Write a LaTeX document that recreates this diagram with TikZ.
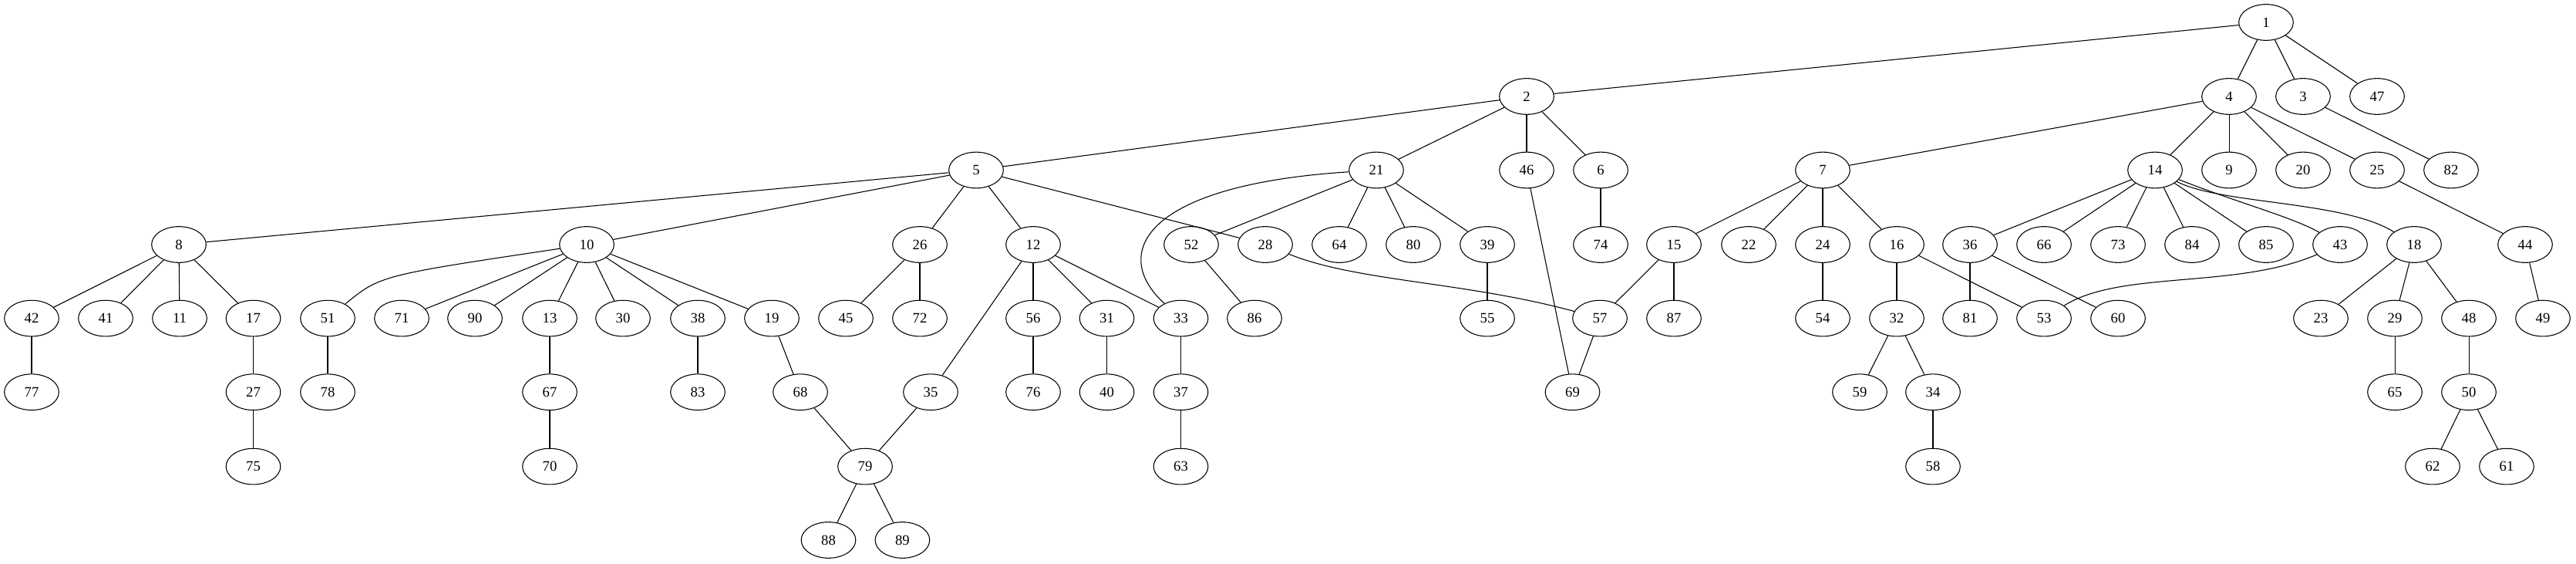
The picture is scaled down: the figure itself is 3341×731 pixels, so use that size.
\documentclass[tikz,border=0pt]{standalone}
\usepackage{fontspec}
\setmainfont{Liberation Serif}
\usetikzlibrary{shapes.geometric}
\begin{document}
\begin{tikzpicture}[x=0.75pt,y=-0.75pt,
  nd/.style={draw,ellipse,line width=0.8pt,minimum width=53pt,minimum height=35pt,inner sep=0pt,font=\fontsize{14pt}{16pt}\selectfont},
  ed/.style={line width=0.8pt}]
\useasboundingbox (0,0) rectangle (3341,731);
\foreach \n/\x/\y in {
 1/2939/29,
 2/1980/125, 4/2891/125, 3/2987/125, 47/3083/125,
 5/1266/220.5, 21/1785/220.5, 46/1980/220.5, 6/2076/220.5, 7/2364/220.5, 14/2795/220.5, 9/2891/220.5, 20/2987/220.5, 25/3083/220.5, 82/3179/220.5,
 8/232/317, 10/761/317, 26/1193/317, 12/1340/317, 52/1545/317, 28/1641/317, 64/1737/317, 80/1833/317, 39/1929/317, 74/2076/317, 15/2171/317, 22/2268/317, 24/2364/317, 16/2460/317, 36/2555/317, 66/2651/317, 73/2747/317, 84/2843/317, 85/2939/317, 43/3035/317, 18/3131/317, 44/3275/317,
 42/41/412.6, 41/137/412.6, 11/233/412.6, 17/328.5/412.6, 51/425/412.6, 71/521/412.6, 90/616/412.6, 13/713/412.6, 30/808/412.6, 38/905/412.6, 19/1001/412.6, 45/1097/412.6, 72/1193/412.6, 56/1340/412.6, 31/1435.5/412.6, 33/1531.5/412.6, 86/1627/412.6, 55/1929/412.6, 57/2075/412.6, 87/2171/412.6, 54/2364/412.6, 32/2460/412.6, 81/2555/412.6, 53/2651/412.6, 60/2747/412.6, 23/3010/412.6, 29/3106/412.6, 48/3202/412.6, 49/3298/412.6,
 77/41/508.2, 27/328.5/508.2, 78/425/508.2, 67/713/508.2, 83/905/508.2, 68/1038/508.2, 35/1207/508.2, 76/1340/508.2, 40/1435.5/508.2, 37/1531.5/508.2, 69/2039.5/508.2, 59/2412/508.2, 34/2507/508.2, 65/3106/508.2, 50/3202/508.2,
 75/328.5/604.6, 70/713/604.6, 79/1122/604.6, 63/1531.5/604.6, 58/2507/604.6, 62/3155/604.6, 61/3251/604.6,
 88/1074.5/700, 89/1170.4/700}
 \node[nd] (n\n) at (\x,\y) {\n};
\foreach \a/\b in {
 1/2, 1/4, 1/3, 1/47,
 2/5, 2/21, 2/46, 2/6,
 4/7, 4/14, 4/9, 4/20, 4/25,
 3/82,
 5/8, 5/10, 5/26, 5/12, 5/28,
 21/52, 21/64, 21/80, 21/39,
 46/69, 6/74,
 7/15, 7/22, 7/24, 7/16,
 14/36, 14/66, 14/73, 14/84, 14/85,
 25/44,
 8/42, 8/41, 8/11, 8/17,
 10/71, 10/90, 10/13, 10/30, 10/38, 10/19,
 26/45, 26/72,
 12/35, 12/56, 12/31, 12/33,
 52/86, 39/55, 15/57, 15/87, 24/54, 16/32, 16/53, 36/81, 36/60,
 18/23, 18/29, 18/48, 44/49,
 42/77, 17/27, 27/75, 51/78, 13/67, 67/70, 38/83, 19/68, 68/79, 35/79, 56/76, 31/40, 33/37, 37/63, 79/88, 79/89,
 57/69, 32/59, 32/34, 34/58, 29/65, 48/50, 50/62, 50/61}
 \draw[ed] (n\a) -- (n\b);
\draw[ed] (n21) .. controls (1480,240) and (1440,330) .. (n33);
\draw[ed] (n28) .. controls (1760,365) and (1900,365) .. (n57);
\draw[ed] (n14) .. controls (2880,265) and (3040,260) .. (n18);
\draw[ed] (n14) .. controls (2900,262) and (2975,282) .. (n43);
\draw[ed] (n43) .. controls (2900,375) and (2750,350) .. (n53);
\draw[ed] (n10) .. controls (493,357) .. (n51);
\end{tikzpicture}
\end{document}
